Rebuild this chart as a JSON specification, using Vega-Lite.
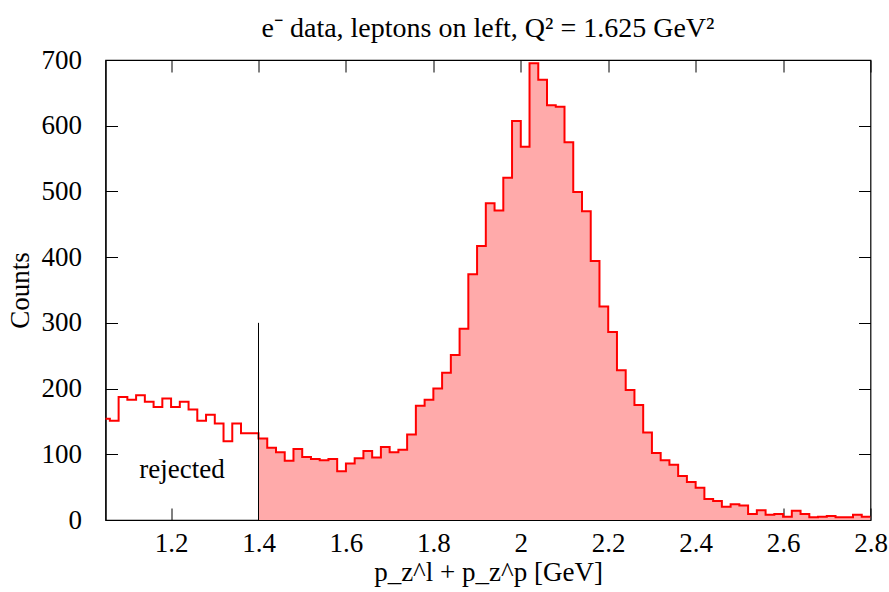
{
  "$schema": "https://vega.github.io/schema/vega-lite/v6.json",
  "width": 765,
  "height": 460,
  "autosize": "none",
  "padding": {"left": 105.5, "top": 60, "right": 18.5, "bottom": 72},
  "background": "white",
  "config": {
    "view": {"stroke": "black", "strokeWidth": 1.2},
    "font": "Liberation Serif",
    "axis": {
      "domainColor": "black", "tickColor": "black", "labelColor": "black", "titleColor": "black",
      "labelFontSize": 27, "titleFontSize": 27, "labelFont": "Liberation Serif", "titleFont": "Liberation Serif",
      "titleFontWeight": "normal", "grid": false, "tickSize": -12, "domainWidth": 1.2, "tickWidth": 1
    }
  },
  "title": {
    "text": "e⁻ data, leptons on left, Q² = 1.625 GeV²",
    "font": "Liberation Serif", "fontSize": 28, "fontWeight": "normal", "color": "black", "offset": 3
  },
  "datasets": {
    "hist": [
      {"x": 1.04, "count": 154}, {"x": 1.06, "count": 151}, {"x": 1.08, "count": 187}, {"x": 1.10, "count": 183},
      {"x": 1.12, "count": 190}, {"x": 1.14, "count": 180}, {"x": 1.16, "count": 172}, {"x": 1.18, "count": 185},
      {"x": 1.20, "count": 172}, {"x": 1.22, "count": 180}, {"x": 1.24, "count": 168}, {"x": 1.26, "count": 151},
      {"x": 1.28, "count": 160}, {"x": 1.30, "count": 147}, {"x": 1.32, "count": 120}, {"x": 1.34, "count": 147},
      {"x": 1.36, "count": 132}, {"x": 1.38, "count": 132}, {"x": 1.40, "count": 124}, {"x": 1.42, "count": 110},
      {"x": 1.44, "count": 103}, {"x": 1.46, "count": 90}, {"x": 1.48, "count": 108}, {"x": 1.50, "count": 96},
      {"x": 1.52, "count": 93}, {"x": 1.54, "count": 91}, {"x": 1.56, "count": 93}, {"x": 1.58, "count": 74},
      {"x": 1.60, "count": 86}, {"x": 1.62, "count": 94}, {"x": 1.64, "count": 105}, {"x": 1.66, "count": 95},
      {"x": 1.68, "count": 111}, {"x": 1.70, "count": 103}, {"x": 1.72, "count": 107}, {"x": 1.74, "count": 130},
      {"x": 1.76, "count": 174}, {"x": 1.78, "count": 183}, {"x": 1.80, "count": 200}, {"x": 1.82, "count": 224},
      {"x": 1.84, "count": 251}, {"x": 1.86, "count": 291}, {"x": 1.88, "count": 374}, {"x": 1.90, "count": 417},
      {"x": 1.92, "count": 482}, {"x": 1.94, "count": 471}, {"x": 1.96, "count": 521}, {"x": 1.98, "count": 607},
      {"x": 2.00, "count": 568}, {"x": 2.02, "count": 695}, {"x": 2.04, "count": 670}, {"x": 2.06, "count": 631},
      {"x": 2.08, "count": 629}, {"x": 2.10, "count": 575}, {"x": 2.12, "count": 499}, {"x": 2.14, "count": 470},
      {"x": 2.16, "count": 394}, {"x": 2.18, "count": 325}, {"x": 2.20, "count": 286}, {"x": 2.22, "count": 228},
      {"x": 2.24, "count": 198}, {"x": 2.26, "count": 175}, {"x": 2.28, "count": 133}, {"x": 2.30, "count": 102},
      {"x": 2.32, "count": 91}, {"x": 2.34, "count": 84}, {"x": 2.36, "count": 67}, {"x": 2.38, "count": 58},
      {"x": 2.40, "count": 49}, {"x": 2.42, "count": 32}, {"x": 2.44, "count": 29}, {"x": 2.46, "count": 20},
      {"x": 2.48, "count": 24}, {"x": 2.50, "count": 22}, {"x": 2.52, "count": 9}, {"x": 2.54, "count": 15},
      {"x": 2.56, "count": 8}, {"x": 2.58, "count": 9}, {"x": 2.60, "count": 5}, {"x": 2.62, "count": 14},
      {"x": 2.64, "count": 9}, {"x": 2.66, "count": 4}, {"x": 2.68, "count": 5}, {"x": 2.70, "count": 6},
      {"x": 2.72, "count": 4}, {"x": 2.74, "count": 4}, {"x": 2.76, "count": 8}, {"x": 2.78, "count": 5},
      {"x": 2.80, "count": 5}
    ],
    "cut": [{"x": 1.4, "y": 0, "y2": 300}],
    "notes": [{"x": 1.225, "y": 76, "label": "rejected"}]
  },
  "layer": [
    {
      "data": {"name": "hist"},
      "transform": [{"filter": "datum.x >= 1.4"}],
      "mark": {"type": "area", "interpolate": "step-after", "color": "#ffaaaa", "clip": true},
      "encoding": {
        "x": {"field": "x", "type": "quantitative", "scale": {"domain": [1.05, 2.8], "nice": false, "zero": false},
              "axis": {"orient": "bottom", "values": [1.2, 1.4, 1.6, 1.8, 2.0, 2.2, 2.4, 2.6, 2.8], "format": "~g",
                       "title": "p_z^l + p_z^p [GeV]", "labelPadding": 22, "titlePadding": 3, "labelFlush": false}},
        "y": {"field": "count", "type": "quantitative", "scale": {"domain": [0, 700], "nice": false},
              "axis": {"orient": "left", "values": [0, 100, 200, 300, 400, 500, 600, 700], "title": "Counts",
                       "labelPadding": 36, "titlePadding": 7, "labelFlush": false}}
      }
    },
    {
      "data": {"name": "hist"},
      "mark": {"type": "line", "interpolate": "step-after", "color": "#ff0000", "strokeWidth": 2, "clip": true},
      "encoding": {
        "x": {"field": "x", "type": "quantitative", "axis": null},
        "y": {"field": "count", "type": "quantitative", "axis": null}
      }
    },
    {
      "data": {"name": "cut"},
      "mark": {"type": "rule", "color": "black", "strokeWidth": 1},
      "encoding": {
        "x": {"field": "x", "type": "quantitative", "axis": null},
        "y": {"field": "y", "type": "quantitative", "axis": null},
        "y2": {"field": "y2"}
      }
    },
    {
      "data": {"name": "notes"},
      "mark": {"type": "text", "font": "Liberation Serif", "fontSize": 27, "color": "black", "align": "center", "baseline": "middle"},
      "encoding": {
        "x": {"field": "x", "type": "quantitative", "axis": null},
        "y": {"field": "y", "type": "quantitative", "axis": null},
        "text": {"field": "label"}
      }
    },
    {
      "data": {"name": "hist"},
      "mark": {"type": "point", "opacity": 0},
      "encoding": {
        "x": {"field": "x", "type": "quantitative",
              "axis": {"orient": "top", "values": [1.2, 1.4, 1.6, 1.8, 2.0, 2.2, 2.4, 2.6, 2.8], "labels": false, "title": null, "domain": false}},
        "y": {"field": "count", "type": "quantitative",
              "axis": {"orient": "right", "values": [0, 100, 200, 300, 400, 500, 600, 700], "labels": false, "title": null, "domain": false}}
      }
    }
  ],
  "resolve": {"axis": {"x": "independent", "y": "independent"}}
}
